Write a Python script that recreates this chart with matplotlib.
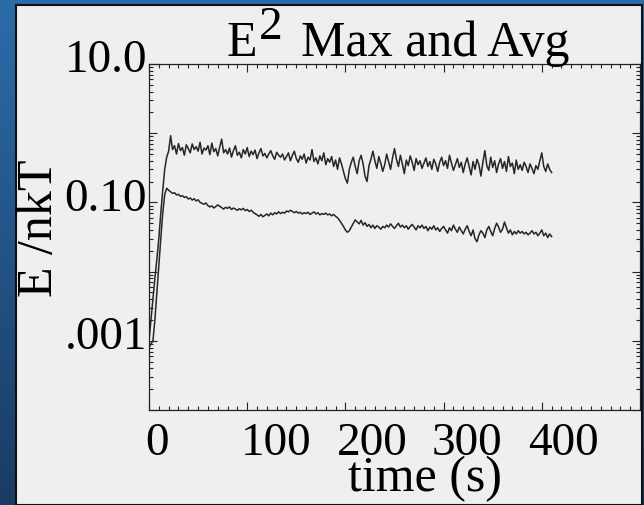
import numpy as np
import matplotlib
matplotlib.use("Agg")
import matplotlib.pyplot as plt
from matplotlib.patches import Rectangle
from matplotlib.colors import LinearSegmentedColormap
from matplotlib.ticker import FixedLocator, FixedFormatter, LogLocator, MultipleLocator, NullFormatter
from matplotlib.transforms import ScaledTranslation

# ---- data -------------------------------------------------------------
time_s = np.arange(0, 412, 2)  # sample times (s)

e2_max = [
    0.001, 0.002, 0.004, 0.008, 0.015, 0.03, 0.07, 0.15, 0.30, 0.45,
    0.55, 0.92, 0.58, 0.66, 0.50, 0.71, 0.56, 0.62, 0.48, 0.68,
    0.60, 0.52, 0.70, 0.58, 0.64, 0.55, 0.74, 0.50, 0.61, 0.57,
    0.66, 0.49, 0.72, 0.54, 0.60, 0.47, 0.63, 0.82, 0.52, 0.58,
    0.50, 0.61, 0.45, 0.56, 0.66, 0.48, 0.53, 0.44, 0.58, 0.50,
    0.62, 0.46, 0.55, 0.49, 0.57, 0.43, 0.52, 0.60, 0.47, 0.51,
    0.44, 0.50, 0.56, 0.47, 0.42, 0.53, 0.48, 0.45, 0.50, 0.41,
    0.46, 0.52, 0.40, 0.48, 0.55, 0.43, 0.38, 0.47, 0.42, 0.50,
    0.37, 0.45, 0.41, 0.58, 0.39, 0.44, 0.36, 0.47, 0.40, 0.52,
    0.35, 0.43, 0.38, 0.46, 0.33, 0.41, 0.30, 0.44, 0.36, 0.28,
    0.22, 0.19, 0.30, 0.38, 0.45, 0.33, 0.26, 0.40, 0.48, 0.36,
    0.24, 0.20, 0.34, 0.42, 0.55, 0.40, 0.31, 0.46, 0.37, 0.28,
    0.35, 0.50, 0.39, 0.30, 0.44, 0.60, 0.42, 0.33, 0.48, 0.36,
    0.26, 0.41, 0.34, 0.47, 0.38, 0.29, 0.43, 0.35, 0.40, 0.31,
    0.37, 0.44, 0.33, 0.39, 0.30, 0.42, 0.36, 0.28, 0.38, 0.45,
    0.34, 0.40, 0.31, 0.48, 0.37, 0.29, 0.35, 0.43, 0.32, 0.38,
    0.27, 0.36, 0.44, 0.33, 0.25, 0.39, 0.30, 0.42, 0.35, 0.24,
    0.38, 0.56, 0.34, 0.29, 0.45, 0.32, 0.40, 0.27, 0.36, 0.43,
    0.31, 0.39, 0.28, 0.46, 0.33, 0.37, 0.26, 0.41, 0.30, 0.35,
    0.29, 0.38, 0.33, 0.27, 0.36, 0.31, 0.26, 0.34, 0.30, 0.40,
    0.52, 0.33, 0.28, 0.36, 0.30, 0.27,
]

e2_avg = [
    0.0008, 0.0009, 0.001, 0.002, 0.005, 0.012, 0.03, 0.07, 0.13, 0.16,
    0.150, 0.142, 0.135, 0.138, 0.128, 0.131, 0.122, 0.125, 0.118, 0.121,
    0.112, 0.116, 0.108, 0.113, 0.105, 0.109, 0.100, 0.097, 0.094, 0.098,
    0.090, 0.086, 0.089, 0.083, 0.087, 0.092, 0.088, 0.084, 0.080, 0.085,
    0.082, 0.086, 0.079, 0.083, 0.080, 0.077, 0.081, 0.078, 0.082, 0.076,
    0.079, 0.074, 0.077, 0.072, 0.069, 0.066, 0.063, 0.067, 0.062, 0.065,
    0.068, 0.064, 0.070, 0.066, 0.071, 0.068, 0.073, 0.069, 0.072, 0.070,
    0.075, 0.073, 0.077, 0.074, 0.071, 0.074, 0.070, 0.072, 0.068, 0.071,
    0.069, 0.072, 0.067, 0.070, 0.073, 0.068, 0.071, 0.066, 0.069, 0.067,
    0.070, 0.066, 0.068, 0.064, 0.067, 0.063, 0.060, 0.055, 0.050, 0.045,
    0.040, 0.037, 0.039, 0.044, 0.050, 0.056, 0.052, 0.049, 0.055, 0.047,
    0.051, 0.045, 0.048, 0.043, 0.047, 0.042, 0.046, 0.044, 0.041, 0.045,
    0.043, 0.047, 0.044, 0.049, 0.045, 0.042, 0.046, 0.050, 0.044, 0.047,
    0.043, 0.046, 0.041, 0.045, 0.048, 0.044, 0.040, 0.046, 0.043, 0.047,
    0.042, 0.045, 0.039, 0.044, 0.041, 0.046, 0.040, 0.043, 0.038, 0.042,
    0.045, 0.040, 0.036, 0.043, 0.039, 0.047, 0.041, 0.037, 0.044, 0.039,
    0.035, 0.041, 0.046, 0.038, 0.033, 0.040, 0.030, 0.027, 0.034, 0.039,
    0.036, 0.031, 0.040, 0.045, 0.038, 0.033, 0.042, 0.050, 0.044, 0.037,
    0.041, 0.052, 0.043, 0.036, 0.040, 0.034, 0.038, 0.035, 0.039, 0.036,
    0.038, 0.035, 0.037, 0.034, 0.036, 0.039, 0.035, 0.037, 0.033, 0.036,
    0.040, 0.033, 0.036, 0.031, 0.035, 0.032,
]

y_major = [1e-4, 1e-3, 1e-2, 1e-1, 1e0, 1e1]
y_labels = ["", ".001", "", "0.10", "", "10.0"]
x_major = [0, 100, 200, 300, 400]
x_labels = ["0", "100", "200", "300", "400"]

title_main = "Max and Avg"
x_title = "time (s)"
y_title = "E /nkT"

# ---- figure -----------------------------------------------------------
W, H, DPI = 644, 505, 100
plt.rcParams["font.family"] = ["Liberation Serif", "DejaVu Serif"]
fig = plt.figure(figsize=(W / DPI, H / DPI), dpi=DPI)

# blue slide backdrop
bg = fig.add_axes([0, 0, 1, 1], zorder=-10)
grad = np.linspace(0, 1, 256).reshape(-1, 1)
cmap = LinearSegmentedColormap.from_list("slide", ["#2b6ca9", "#1a3b63"])
bg.imshow(grad, aspect="auto", cmap=cmap, extent=[0, 1, 0, 1], origin="upper")
bg.set_axis_off()

# light panel holding the plot
fig.add_artist(Rectangle((16 / W, 0), 626 / W, (H - 5) / H, transform=fig.transFigure,
                         facecolor="#efefef", edgecolor="#111111", lw=1.5, zorder=-5))

ax = fig.add_axes([149 / W, 1 - 410 / H, 491 / W, 346 / H])
ax.set_facecolor("#efefef")

line_kw = dict(color="#262626", lw=1.1)
ax.plot(time_s, e2_max, **line_kw)
ax.plot(time_s, e2_avg, **line_kw)

ax.set_yscale("log")
ax.set_xlim(0, 500)
ax.set_ylim(1e-4, 10)

ax.yaxis.set_major_locator(FixedLocator(y_major))
ax.yaxis.set_major_formatter(FixedFormatter(y_labels))
ax.yaxis.set_minor_locator(LogLocator(base=10, subs=np.arange(2, 10), numticks=20))
ax.yaxis.set_minor_formatter(NullFormatter())
ax.xaxis.set_major_locator(FixedLocator(x_major))
ax.xaxis.set_major_formatter(FixedFormatter(x_labels))
ax.xaxis.set_minor_locator(MultipleLocator(10))

ax.tick_params(which="both", direction="in", top=True, right=True,
               color="#222222", width=0.8, labelsize=34)
ax.tick_params(which="major", length=6)
ax.tick_params(which="minor", length=3)
ax.tick_params(axis="y", pad=1.5)
ax.tick_params(axis="x", pad=9)
for s in ax.spines.values():
    s.set_linewidth(0.9)
    s.set_color("#222222")

for i, lab in enumerate(ax.get_xticklabels()):
    lab.set_ha("left")
    shift = -(4 + 2.5 * i)
    lab.set_transform(lab.get_transform() + ScaledTranslation(shift / DPI, 0, fig.dpi_scale_trans))
for lab in ax.get_yticklabels():
    lab.set_transform(lab.get_transform() + ScaledTranslation(0, 8 / DPI, fig.dpi_scale_trans))

ax.set_xlabel(x_title, fontsize=36, va="top", ha="center")
ax.xaxis.set_label_coords((425 - 149) / 491, (410 - 456) / 346)
ax.set_ylabel(y_title, fontsize=36, va="center", ha="center")
ax.yaxis.set_label_coords((40 - 149) / 491, (410 - 228) / 346)

# title: E with a large raised 2, then the rest
ax.text((227 - 149) / 491, (410 - 56) / 346, "E", fontsize=36, ha="left", va="baseline",
        transform=ax.transAxes)
ax.text((259 - 149) / 491, (410 - 39) / 346, "2", fontsize=34, ha="left", va="baseline",
        transform=ax.transAxes)
ax.text((301 - 149) / 491, (410 - 56) / 346, title_main, fontsize=36, ha="left",
        va="baseline", transform=ax.transAxes)

fig.savefig("out.png", dpi=DPI)
